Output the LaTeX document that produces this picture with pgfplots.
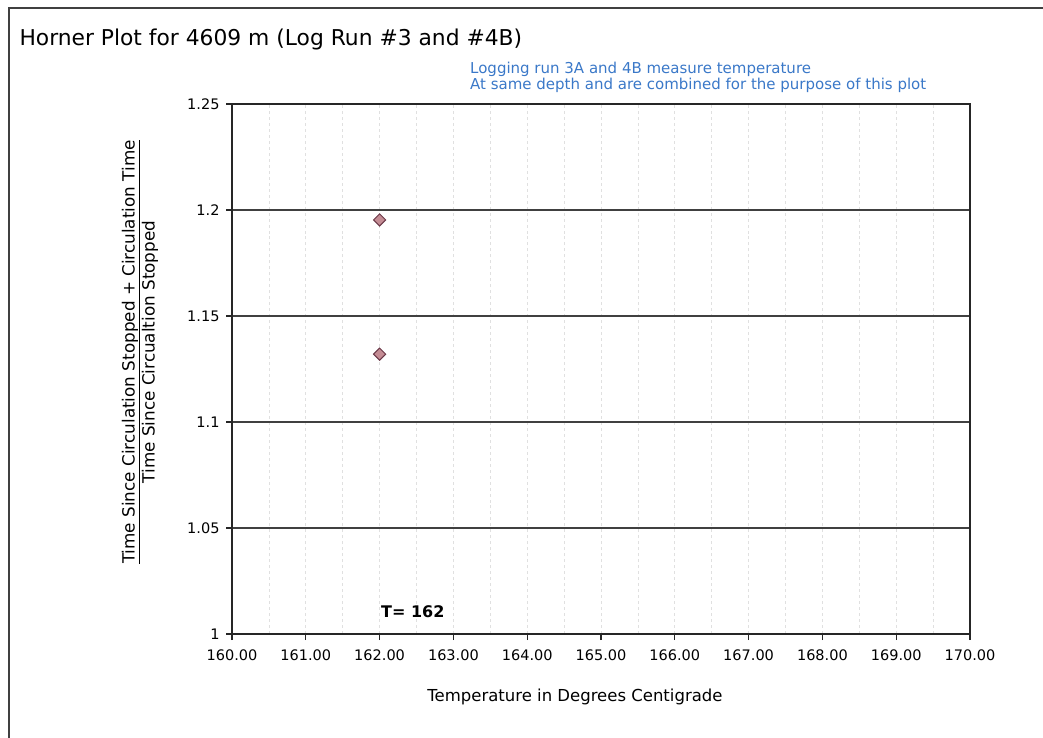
\documentclass[border=0pt]{standalone}
\usepackage{pgfplots}
\pgfplotsset{compat=1.18}
\usepackage{fontspec}
\setmainfont{DejaVu Sans}
\definecolor{annot}{HTML}{3A78C8}
\definecolor{mkfill}{HTML}{C48C94}
\definecolor{mkdraw}{HTML}{6A3848}
\begin{document}
\begin{tikzpicture}
\path[use as bounding box] (0bp,0bp) rectangle (1043bp,-738bp);
\draw[line width=1.3bp, black!75] (9bp,-738bp) -- (9bp,-8bp) -- (1043bp,-8bp);
\node[anchor=west, font=\fontsize{21.8bp}{24bp}\selectfont] at (16bp,-39bp) {Horner Plot for 4609 m (Log Run \#3 and \#4B)};
\node[anchor=north west, align=left, text=annot, font=\fontsize{15bp}{14.5bp}\selectfont, inner sep=0pt] at (470bp,-62bp) {Logging run 3A and 4B measure temperature\\At same depth and are combined for the purpose of this plot};
\node[rotate=90, align=center, font=\fontsize{16.8bp}{20bp}\selectfont, inner sep=0pt] at (140bp,-352bp) {\underline{Time Since Circulation Stopped + Circulation Time}\\Time Since Circualtion Stopped};
\begin{axis}[
  at={(232bp,-634bp)}, anchor=south west,
  scale only axis, width=738bp, height=530bp,
  xmin=160, xmax=170, ymin=1, ymax=1.25,
  xtick={160,161,...,170},
  ytick={1,1.05,1.1,1.15,1.2,1.25},
  yticklabels={1,1.05,1.1,1.15,1.2,1.25},
  minor x tick num=1,
  xticklabel={\pgfmathprintnumber[fixed,fixed zerofill,precision=2]{\tick}},
  /pgf/number format/assume math mode=true,
  ticklabel style={font=\fontsize{14.5bp}{16bp}\selectfont},
  xticklabel style={yshift=-6bp},
  yticklabel style={xshift=-3bp},
  tick align=outside,
  major tick length=6bp, minor tick length=0bp,
  xtick pos=bottom, ytick pos=left,
  xmajorgrids, xminorgrids, ymajorgrids,
  x grid style={black!12, dashed, line width=0.8bp},
  minor x grid style={black!12, dashed, line width=0.8bp},
  y grid style={black!75, line width=1.2bp},
  axis line style={line width=2bp, black!85},
  major tick style={line width=1.2bp, black!85},
  xlabel={Temperature in Degrees Centigrade},
  xlabel style={font=\fontsize{16.5bp}{18bp}\selectfont, yshift=-22bp, xshift=-26bp},
]
\addplot[only marks, mark=square*, mark size=4.3bp, mark options={rotate=45, fill=mkfill, draw=mkdraw, line width=1bp}] coordinates {(162,1.1953) (162,1.132)};
\node[font=\bfseries\fontsize{16bp}{18bp}\selectfont] at (axis cs:162.45,1.0105) {T= 162};
\end{axis}
\end{tikzpicture}
\end{document}
